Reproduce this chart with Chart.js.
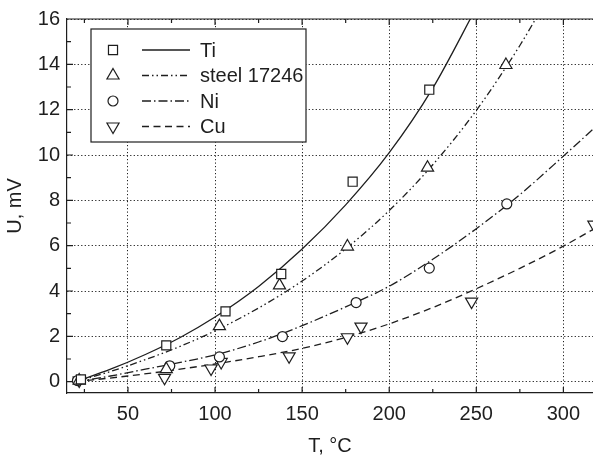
<!DOCTYPE html>
<html>
<head>
<meta charset="utf-8">
<script src="https://cdn.jsdelivr.net/npm/chart.js@4.4.0/dist/chart.umd.min.js"></script>
<style>
  html, body { margin: 0; padding: 0; background: #fff; }
</style>
</head>
<body>
<canvas id="chart" width="593" height="461"></canvas>
<script>
// Measured points (T in °C, U in mV)
const tiT    = [23, 72, 106, 138, 179, 223];
const tiU    = [0.1, 1.6, 3.1, 4.75, 8.82, 12.88];
const steelT = [22, 72, 102.5, 137, 176, 222, 267];
const steelU = [0.05, 0.55, 2.45, 4.25, 5.96, 9.44, 13.97];
const niT    = [21, 74, 102.5, 138.7, 181, 223, 267.5];
const niU    = [0.05, 0.7, 1.09, 1.99, 3.49, 5.01, 7.84];
const cuT    = [22, 71, 97.7, 103.5, 142.5, 176, 183.8, 247.3, 317.5];
const cuU    = [0.05, 0.17, 0.58, 0.87, 1.12, 1.96, 2.43, 3.53, 6.93];

// Fitted curves
const tiFitT    = [20, 40, 60, 80, 100, 125, 150, 175, 200, 225, 250];
const tiFitU    = [0, 0.55, 1.2, 1.95, 2.85, 4.2, 5.85, 7.8, 10.1, 12.95, 16.5];
const steelFitT = [20, 40, 60, 80, 100, 125, 150, 175, 200, 225, 250, 275, 290];
const steelFitU = [0, 0.45, 0.97, 1.56, 2.24, 3.25, 4.44, 5.86, 7.55, 9.57, 11.97, 14.83, 16.8];
const niFitT    = [20, 40, 60, 80, 100, 125, 150, 175, 200, 225, 250, 275, 300, 320];
const niFitU    = [0, 0.25, 0.55, 0.85, 1.18, 1.75, 2.47, 3.3, 4.21, 5.4, 6.75, 8.25, 9.95, 11.35];
const cuFitT    = [20, 50, 75, 100, 125, 150, 175, 200, 225, 250, 275, 300, 320];
const cuFitU    = [0, 0.25, 0.5, 0.78, 1.1, 1.47, 1.95, 2.55, 3.27, 4.1, 5.0, 5.98, 6.85];

// Axis ticks
const xTicks = [50, 100, 150, 200, 250, 300];
const xMinor = [25, 75, 125, 175, 225, 275];
const yTicks = [0, 2, 4, 6, 8, 10, 12, 14, 16];
const yMinor = [1, 3, 5, 7, 9, 11, 13, 15];

const seriesNames = ["Ti", "steel 17246", "Ni", "Cu"];

const INK = "#1e1e1e";
const FONT = "'Liberation Sans', Arial, sans-serif";

const pts = (xs, ys) => xs.map((x, i) => ({ x: x, y: ys[i] }));

const markerStyle = [
  { pointStyle: "rect", radius: 6.4, rotation: 0 },
  { pointStyle: "triangle", radius: 7, rotation: 0 },
  { pointStyle: "circle", radius: 5, rotation: 0 },
  { pointStyle: "triangle", radius: 7, rotation: 180 }
];
const dashes = [[], [7, 3, 1.5, 3, 1.5, 3], [9, 3, 1.5, 3], [7, 4.5]];

function markerSet(name, xs, ys, i) {
  return {
    label: name, data: pts(xs, ys), showLine: false,
    pointStyle: markerStyle[i].pointStyle, pointRadius: markerStyle[i].radius,
    pointRotation: markerStyle[i].rotation,
    pointBackgroundColor: "#fff", pointBorderColor: INK, pointBorderWidth: 1.2
  };
}
function curveSet(name, xs, ys, i) {
  return {
    label: name + " fit", data: pts(xs, ys), showLine: true, pointRadius: 0,
    borderColor: INK, borderWidth: 1.3, borderDash: dashes[i],
    cubicInterpolationMode: "monotone", fill: false
  };
}

// inner tick marks and top frame line
const frameTicks = {
  id: "frameTicks",
  afterDatasetsDraw(chart) {
    const { ctx, chartArea: a, scales: { x, y } } = chart;
    ctx.save();
    ctx.strokeStyle = INK;
    ctx.lineWidth = 1.2;
    ctx.setLineDash([]);
    ctx.beginPath();
    ctx.moveTo(a.left, a.top); ctx.lineTo(a.right, a.top);
    const vt = (v, len) => {
      const px = x.getPixelForValue(v);
      ctx.moveTo(px, a.bottom); ctx.lineTo(px, a.bottom - len);
      ctx.moveTo(px, a.top); ctx.lineTo(px, a.top + len);
    };
    const ht = (v, len) => {
      const py = y.getPixelForValue(v);
      ctx.moveTo(a.left, py); ctx.lineTo(a.left + len, py);
    };
    xTicks.forEach(v => vt(v, 6));
    xMinor.forEach(v => vt(v, 4));
    yTicks.forEach(v => ht(v, 6));
    yMinor.forEach(v => ht(v, 4));
    ctx.stroke();
    ctx.restore();
  }
};

// boxed legend: marker, line sample, name
const boxLegend = {
  id: "boxLegend",
  afterDraw(chart) {
    const ctx = chart.ctx;
    ctx.save();
    ctx.fillStyle = "#fff";
    ctx.strokeStyle = INK;
    ctx.lineWidth = 1.2;
    ctx.setLineDash([]);
    ctx.fillRect(91, 29, 215, 113);
    ctx.strokeRect(91, 29, 215, 113);
    seriesNames.forEach((name, i) => {
      const yy = 50 + i * 25.5;
      ctx.fillStyle = "#fff";
      ctx.strokeStyle = INK;
      ctx.lineWidth = 1.2;
      ctx.setLineDash([]);
      Chart.helpers.drawPoint(ctx, {
        pointStyle: markerStyle[i].pointStyle, radius: markerStyle[i].radius,
        rotation: markerStyle[i].rotation, borderWidth: 1.2
      }, 113, yy);
      ctx.beginPath();
      ctx.lineWidth = 1.3;
      ctx.setLineDash(dashes[i]);
      ctx.moveTo(142, yy); ctx.lineTo(190, yy);
      ctx.stroke();
      ctx.setLineDash([]);
      ctx.fillStyle = INK;
      ctx.font = "20px " + FONT;
      ctx.textBaseline = "middle";
      ctx.fillText(name, 200, yy + 1);
    });
    ctx.restore();
  }
};

const ctx = document.getElementById("chart").getContext("2d");
const chart = new Chart(ctx, {
  type: "scatter",
  data: {
    datasets: [
      markerSet("Ti", tiT, tiU, 0),
      markerSet("steel 17246", steelT, steelU, 1),
      markerSet("Ni", niT, niU, 2),
      markerSet("Cu", cuT, cuU, 3),
      curveSet("Ti", tiFitT, tiFitU, 0),
      curveSet("steel 17246", steelFitT, steelFitU, 1),
      curveSet("Ni", niFitT, niFitU, 2),
      curveSet("Cu", cuFitT, cuFitU, 3)
    ]
  },
  options: {
    responsive: false,
    animation: false,
    devicePixelRatio: 1,
    layout: { autoPadding: false, padding: { top: 15, right: 0, bottom: 0, left: 0 } },
    plugins: { legend: { display: false }, tooltip: { enabled: false } },
    scales: {
      x: {
        type: "linear", min: 15, max: 317,
        afterBuildTicks: s => { s.ticks = xTicks.map(v => ({ value: v })); },
        afterFit: s => { s.height = 68; s.paddingRight = 0; s.paddingLeft = 0; },
        grid: { color: INK, lineWidth: 1, drawTicks: false },
        border: { display: true, color: INK, width: 1.2, dash: [1.2, 2.3] },
        ticks: { color: INK, font: { size: 20, family: FONT }, padding: 9, maxRotation: 0 },
        title: { display: true, text: "T, °C", color: INK, font: { size: 20, family: FONT }, padding: { top: 0, bottom: 3 } }
      },
      y: {
        type: "linear", min: -0.5, max: 16,
        afterBuildTicks: s => { s.ticks = yTicks.map(v => ({ value: v })); },
        afterFit: s => { s.width = 67; },
        grid: { color: INK, lineWidth: 1, drawTicks: false },
        border: { display: true, color: INK, width: 1.2, dash: [1.2, 2.3] },
        ticks: { color: INK, font: { size: 20, family: FONT }, padding: 7 },
        title: { display: true, text: "U, mV", color: INK, font: { size: 20, family: FONT }, padding: { top: 3, bottom: 0 } }
      }
    }
  },
  plugins: [frameTicks, boxLegend]
});
</script>
</body>
</html>
